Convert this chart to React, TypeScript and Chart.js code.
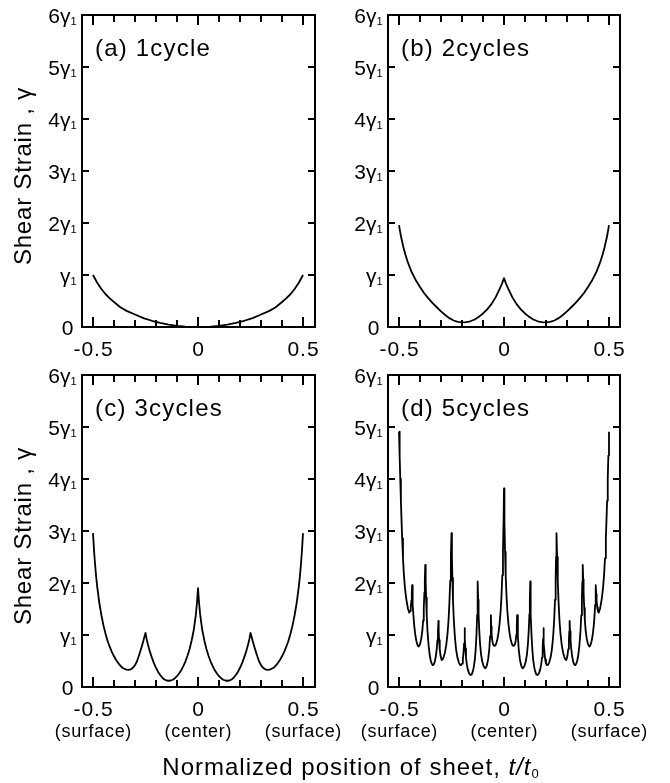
import React, { useEffect, useRef } from 'react';
import { Chart, registerables } from 'chart.js';

Chart.register(...registerables);

const W = 670;
const H = 783;
const FONT = '"Liberation Sans", Arial, Helvetica, sans-serif';

// ---- axis ticks / labels ----
const xMinorTicks = [-0.5, -0.4, -0.3, -0.2, -0.1, 0, 0.1, 0.2, 0.3, 0.4, 0.5];
const xMajorTicks = [-0.5, 0, 0.5];
const xTickLabels = ['-0.5', '0', '0.5'];
const xPositionLabels = ['(surface)', '(center)', '(surface)'];
const yTickValues = [0, 1, 2, 3, 4, 5, 6];
const yTickMain = ['0', 'γ', '2γ', '3γ', '4γ', '5γ', '6γ'];
const yTickSub = ['', '1', '1', '1', '1', '1', '1'];
const panelLabels = ['(a) 1cycle', '(b) 2cycles', '(c) 3cycles', '(d) 5cycles'];
const yAxisTitle = 'Shear Strain , γ';
const xAxisTitleText = 'Normalized position of sheet, ';

// ---- series: [t/t0, shear strain in units of γ1] ----
const cycle1Curve = [
  [-0.5, 1.0], [-0.48, 0.85], [-0.46, 0.73], [-0.44, 0.63], [-0.42, 0.55], [-0.4, 0.48], [-0.37, 0.38],
  [-0.34, 0.31], [-0.3, 0.24], [-0.26, 0.17], [-0.22, 0.12], [-0.18, 0.08], [-0.14, 0.045], [-0.1, 0.02],
  [-0.06, 0.007], [-0.02, 0], [0.02, 0], [0.06, 0.007], [0.1, 0.02], [0.14, 0.045], [0.18, 0.08],
  [0.22, 0.12], [0.26, 0.17], [0.3, 0.24], [0.34, 0.31], [0.37, 0.38], [0.4, 0.48], [0.42, 0.55],
  [0.44, 0.63], [0.46, 0.73], [0.48, 0.85], [0.5, 1.0],
];

const cycle2Curve = [
  [-0.5, 1.96], [-0.495, 1.84], [-0.49, 1.73], [-0.48, 1.55], [-0.47, 1.4], [-0.46, 1.27], [-0.45, 1.16],
  [-0.44, 1.06], [-0.42, 0.9], [-0.4, 0.77], [-0.38, 0.65], [-0.36, 0.55], [-0.34, 0.46], [-0.32, 0.38],
  [-0.3, 0.3], [-0.28, 0.23], [-0.26, 0.17], [-0.24, 0.125], [-0.22, 0.1], [-0.2, 0.09], [-0.18, 0.095],
  [-0.16, 0.11], [-0.14, 0.145], [-0.12, 0.195], [-0.1, 0.26], [-0.08, 0.34], [-0.06, 0.44], [-0.04, 0.57],
  [-0.02, 0.74], [-0.01, 0.83], [0, 0.94], [0.01, 0.83], [0.02, 0.74], [0.04, 0.57], [0.06, 0.44],
  [0.08, 0.34], [0.1, 0.26], [0.12, 0.195], [0.14, 0.145], [0.16, 0.11], [0.18, 0.095], [0.2, 0.09],
  [0.22, 0.1], [0.24, 0.125], [0.26, 0.17], [0.28, 0.23], [0.3, 0.3], [0.32, 0.38], [0.34, 0.46],
  [0.36, 0.55], [0.38, 0.65], [0.4, 0.77], [0.42, 0.9], [0.44, 1.06], [0.45, 1.16], [0.46, 1.27],
  [0.47, 1.4], [0.48, 1.55], [0.49, 1.73], [0.495, 1.84], [0.5, 1.96],
];

const cycle3Curve = [
  [-0.5, 2.96], [-0.495, 2.62], [-0.49, 2.35], [-0.485, 2.12], [-0.48, 1.93], [-0.47, 1.62], [-0.46, 1.38],
  [-0.45, 1.18], [-0.44, 1.02], [-0.43, 0.88], [-0.42, 0.77], [-0.41, 0.67], [-0.4, 0.59], [-0.39, 0.52],
  [-0.38, 0.46], [-0.37, 0.41], [-0.36, 0.37], [-0.35, 0.35], [-0.34, 0.335], [-0.332, 0.33], [-0.32, 0.34],
  [-0.31, 0.37], [-0.3, 0.42], [-0.29, 0.5], [-0.28, 0.62], [-0.27, 0.75], [-0.26, 0.89], [-0.255, 0.97],
  [-0.25, 1.04], [-0.245, 0.93], [-0.24, 0.84], [-0.23, 0.69], [-0.22, 0.57], [-0.21, 0.46], [-0.2, 0.37],
  [-0.19, 0.29], [-0.18, 0.23], [-0.17, 0.18], [-0.16, 0.145], [-0.15, 0.125], [-0.14, 0.12], [-0.13, 0.125],
  [-0.12, 0.14], [-0.11, 0.17], [-0.1, 0.21], [-0.09, 0.26], [-0.08, 0.32], [-0.07, 0.4], [-0.06, 0.49],
  [-0.05, 0.6], [-0.04, 0.73], [-0.03, 0.9], [-0.02, 1.1], [-0.01, 1.4], [-0.005, 1.62], [0, 1.9],
  [0.005, 1.62], [0.01, 1.4], [0.02, 1.1], [0.03, 0.9], [0.04, 0.73], [0.05, 0.6], [0.06, 0.49],
  [0.07, 0.4], [0.08, 0.32], [0.09, 0.26], [0.1, 0.21], [0.11, 0.17], [0.12, 0.14], [0.13, 0.125],
  [0.14, 0.12], [0.15, 0.125], [0.16, 0.145], [0.17, 0.18], [0.18, 0.23], [0.19, 0.29], [0.2, 0.37],
  [0.21, 0.46], [0.22, 0.57], [0.23, 0.69], [0.24, 0.84], [0.245, 0.93], [0.25, 1.04], [0.255, 0.97],
  [0.26, 0.89], [0.27, 0.75], [0.28, 0.62], [0.29, 0.5], [0.3, 0.42], [0.31, 0.37], [0.32, 0.34],
  [0.332, 0.33], [0.34, 0.335], [0.35, 0.35], [0.36, 0.37], [0.37, 0.41], [0.38, 0.46], [0.39, 0.52],
  [0.4, 0.59], [0.41, 0.67], [0.42, 0.77], [0.43, 0.88], [0.44, 1.02], [0.45, 1.18], [0.46, 1.38],
  [0.47, 1.62], [0.48, 1.93], [0.485, 2.12], [0.49, 2.35], [0.495, 2.62], [0.5, 2.96],
];

const cycle5Curve = [
  [-0.5, 4.91], [-0.497, 4.45], [-0.494, 4.0], [-0.491, 3.58], [-0.488, 3.2], [-0.485, 2.86], [-0.481, 2.48],
  [-0.477, 2.18], [-0.472, 1.92], [-0.467, 1.74], [-0.462, 1.61], [-0.457, 1.5], [-0.451, 1.43],
  [-0.447, 1.46], [-0.444, 1.53], [-0.441, 1.66], [-0.439, 1.79], [-0.4375, 1.96],
  [-0.436, 1.78], [-0.434, 1.58], [-0.431, 1.36], [-0.427, 1.16], [-0.422, 0.99], [-0.417, 0.88], [-0.412, 0.81], [-0.408, 0.78],
  [-0.404, 0.79], [-0.399, 0.84], [-0.394, 0.93], [-0.389, 1.08], [-0.385, 1.28], [-0.382, 1.52], [-0.379, 1.82], [-0.377, 2.07], [-0.375, 2.35],
  [-0.373, 2.02], [-0.371, 1.72], [-0.368, 1.38], [-0.364, 1.06], [-0.359, 0.8], [-0.354, 0.62], [-0.349, 0.51], [-0.344, 0.45], [-0.34, 0.42],
  [-0.335, 0.43], [-0.33, 0.48], [-0.325, 0.58], [-0.32, 0.74], [-0.317, 0.9], [-0.3145, 1.07], [-0.3125, 1.27],
  [-0.311, 1.07], [-0.309, 0.9], [-0.306, 0.73], [-0.302, 0.6], [-0.297, 0.52],
  [-0.292, 0.53], [-0.287, 0.58], [-0.281, 0.67], [-0.275, 0.81], [-0.269, 1.02], [-0.264, 1.29], [-0.26, 1.62], [-0.256, 2.05], [-0.253, 2.5], [-0.25, 2.96],
  [-0.248, 2.5], [-0.246, 2.1], [-0.243, 1.68], [-0.239, 1.29], [-0.234, 0.97], [-0.228, 0.72], [-0.222, 0.57], [-0.215, 0.47], [-0.21, 0.43], [-0.205, 0.42],
  [-0.2, 0.45], [-0.196, 0.53], [-0.193, 0.65], [-0.19, 0.84], [-0.1875, 1.13],
  [-0.186, 0.92], [-0.184, 0.74], [-0.181, 0.57], [-0.177, 0.43], [-0.172, 0.33], [-0.166, 0.26], [-0.159, 0.23],
  [-0.154, 0.24], [-0.149, 0.29], [-0.144, 0.38], [-0.139, 0.52], [-0.135, 0.72], [-0.131, 1.0], [-0.128, 1.38], [-0.126, 1.72], [-0.125, 2.03],
  [-0.123, 1.68], [-0.121, 1.4], [-0.118, 1.1], [-0.114, 0.83], [-0.109, 0.62], [-0.103, 0.48], [-0.097, 0.4], [-0.09, 0.36],
  [-0.085, 0.38], [-0.08, 0.44], [-0.075, 0.55], [-0.07, 0.73], [-0.066, 0.98], [-0.0625, 1.38],
  [-0.061, 1.17], [-0.059, 1.01], [-0.056, 0.9], [-0.052, 0.82], [-0.046, 0.79],
  [-0.041, 0.8], [-0.036, 0.85], [-0.031, 0.93], [-0.026, 1.05], [-0.021, 1.22], [-0.016, 1.46], [-0.012, 1.75], [-0.008, 2.15], [-0.005, 2.6], [-0.002, 3.2], [0, 3.82],
  [0.002, 3.2], [0.005, 2.6], [0.008, 2.15], [0.012, 1.75], [0.016, 1.46], [0.021, 1.22], [0.026, 1.05], [0.031, 0.93], [0.036, 0.85], [0.041, 0.8], [0.046, 0.79],
  [0.052, 0.82], [0.056, 0.9], [0.059, 1.01], [0.061, 1.17], [0.0625, 1.38],
  [0.066, 0.98], [0.07, 0.73], [0.075, 0.55], [0.08, 0.44], [0.085, 0.38], [0.09, 0.36],
  [0.097, 0.4], [0.103, 0.48], [0.109, 0.62], [0.114, 0.83], [0.118, 1.1], [0.121, 1.4], [0.123, 1.68], [0.125, 2.03],
  [0.126, 1.72], [0.128, 1.38], [0.131, 1.0], [0.135, 0.72], [0.139, 0.52], [0.144, 0.38], [0.149, 0.29], [0.154, 0.24], [0.159, 0.23],
  [0.166, 0.26], [0.172, 0.33], [0.177, 0.43], [0.181, 0.57], [0.184, 0.74], [0.186, 0.92], [0.1875, 1.13],
  [0.19, 0.84], [0.193, 0.65], [0.196, 0.53], [0.2, 0.45], [0.205, 0.42],
  [0.21, 0.43], [0.215, 0.47], [0.222, 0.57], [0.228, 0.72], [0.234, 0.97], [0.239, 1.29], [0.243, 1.68], [0.246, 2.1], [0.248, 2.5], [0.25, 2.96],
  [0.253, 2.5], [0.256, 2.05], [0.26, 1.62], [0.264, 1.29], [0.269, 1.02], [0.275, 0.81], [0.281, 0.67], [0.287, 0.58], [0.292, 0.53], [0.297, 0.52],
  [0.302, 0.6], [0.306, 0.73], [0.309, 0.9], [0.311, 1.07], [0.3125, 1.27],
  [0.3145, 1.07], [0.317, 0.9], [0.32, 0.74], [0.325, 0.58], [0.33, 0.48], [0.335, 0.43], [0.34, 0.42],
  [0.344, 0.45], [0.349, 0.51], [0.354, 0.62], [0.359, 0.8], [0.364, 1.06], [0.368, 1.38], [0.371, 1.72], [0.373, 2.02], [0.375, 2.35],
  [0.377, 2.07], [0.379, 1.82], [0.382, 1.52], [0.385, 1.28], [0.389, 1.08], [0.394, 0.93], [0.399, 0.84], [0.404, 0.79], [0.408, 0.78],
  [0.412, 0.81], [0.417, 0.88], [0.422, 0.99], [0.427, 1.16], [0.431, 1.36], [0.434, 1.58], [0.436, 1.78], [0.4375, 1.96],
  [0.439, 1.79], [0.441, 1.66], [0.444, 1.53], [0.447, 1.46], [0.451, 1.43],
  [0.457, 1.5], [0.462, 1.61], [0.467, 1.74], [0.472, 1.92], [0.477, 2.18], [0.481, 2.48], [0.485, 2.86], [0.488, 3.2], [0.491, 3.58], [0.494, 4.0], [0.497, 4.45], [0.5, 4.91],
];

type Area = { left: number; top: number; right: number; bottom: number };
type PanelSpec = {
  curve: number[][];
  label: string;
  area: Area;
  xMin: number;
  xMax: number;
  yTitle: boolean;
  bottomLabels: boolean;
  xTitle: boolean;
};

const panels: PanelSpec[] = [
  { curve: cycle1Curve, label: panelLabels[0], area: { left: 82, top: 15, right: 315, bottom: 327 }, xMin: -0.5524, xMax: 0.5571, yTitle: true, bottomLabels: false, xTitle: false },
  { curve: cycle2Curve, label: panelLabels[1], area: { left: 388, top: 15, right: 620, bottom: 327 }, xMin: -0.5524, xMax: 0.5524, yTitle: false, bottomLabels: false, xTitle: false },
  { curve: cycle3Curve, label: panelLabels[2], area: { left: 82, top: 375, right: 315, bottom: 687 }, xMin: -0.5524, xMax: 0.5571, yTitle: true, bottomLabels: true, xTitle: true },
  { curve: cycle5Curve, label: panelLabels[3], area: { left: 388, top: 375, right: 620, bottom: 687 }, xMin: -0.5524, xMax: 0.5524, yTitle: false, bottomLabels: true, xTitle: false },
];

function setSpacing(ctx: CanvasRenderingContext2D, px: number) {
  (ctx as any).letterSpacing = px + 'px';
}

function makeFramePlugin(p: PanelSpec) {
  return {
    id: 'panelFrame',
    afterDraw(chart: any) {
      const ctx = chart.ctx as CanvasRenderingContext2D;
      const { left, top, right, bottom } = chart.chartArea;
      const xs = chart.scales.x;
      const ys = chart.scales.y;
      ctx.save();
      ctx.strokeStyle = '#000';
      ctx.fillStyle = '#000';
      ctx.lineWidth = 2;
      ctx.lineCap = 'butt';
      ctx.strokeRect(left, top, right - left, bottom - top);

      ctx.beginPath();
      for (const v of xMinorTicks) {
        const px = Math.round(xs.getPixelForValue(v));
        const len = xMajorTicks.includes(v) ? 10 : 7;
        ctx.moveTo(px, bottom);
        ctx.lineTo(px, bottom - len);
        ctx.moveTo(px, top);
        ctx.lineTo(px, top + len);
      }
      for (const v of yTickValues) {
        const py = Math.round(ys.getPixelForValue(v));
        ctx.moveTo(left, py);
        ctx.lineTo(left + 7, py);
        ctx.moveTo(right, py);
        ctx.lineTo(right - 7, py);
      }
      ctx.stroke();

      // y tick labels with subscripts
      ctx.textAlign = 'left';
      ctx.textBaseline = 'alphabetic';
      setSpacing(ctx, 0);
      yTickValues.forEach((v, i) => {
        const py = ys.getPixelForValue(v);
        const main = yTickMain[i];
        const sub = yTickSub[i];
        ctx.font = `21px ${FONT}`;
        const mw = ctx.measureText(main).width;
        ctx.font = `11px ${FONT}`;
        const sw = sub ? ctx.measureText(sub).width : 0;
        const anchor = sub ? left - 5.5 : left - 8.5;
        const x0 = anchor - mw - sw;
        const base = py + 7.5;
        ctx.font = `21px ${FONT}`;
        ctx.fillText(main, x0, base);
        if (sub) {
          ctx.font = `11px ${FONT}`;
          ctx.fillText(sub, x0 + mw, base + 2);
        }
      });

      // x tick labels
      ctx.textAlign = 'center';
      ctx.font = `21px ${FONT}`;
      setSpacing(ctx, 1);
      xMajorTicks.forEach((v, i) => {
        const px = xs.getPixelForValue(v);
        ctx.fillText(xTickLabels[i], px + 0.5, bottom + 28.5);
      });
      if (p.bottomLabels) {
        ctx.font = `18px ${FONT}`;
        setSpacing(ctx, 0.7);
        xMajorTicks.forEach((v, i) => {
          const px = xs.getPixelForValue(v);
          ctx.fillText(xPositionLabels[i], px + 0.4, bottom + 50);
        });
      }

      // panel label
      ctx.textAlign = 'left';
      ctx.font = `24px ${FONT}`;
      setSpacing(ctx, 1.2);
      ctx.fillText(p.label, left + 13, top + 41);

      // y axis title
      if (p.yTitle) {
        ctx.save();
        ctx.translate(31, (top + bottom) / 2 + 5);
        ctx.rotate(-Math.PI / 2);
        ctx.textAlign = 'center';
        ctx.font = `24px ${FONT}`;
        setSpacing(ctx, 0.8);
        ctx.fillText(yAxisTitle, 0, 0);
        ctx.restore();
      }

      // shared x axis title
      if (p.xTitle) {
        setSpacing(ctx, 1);
        ctx.textAlign = 'left';
        const fN = `24px ${FONT}`;
        const fI = `italic 24px ${FONT}`;
        const fS = `13px ${FONT}`;
        const parts: [string, string, number][] = [
          [xAxisTitleText, fN, 0],
          ['t/t', fI, 0],
          ['0', fS, 3],
        ];
        let total = 0;
        const widths = parts.map(([t, f]) => {
          ctx.font = f;
          const w = ctx.measureText(t).width;
          total += w;
          return w;
        });
        let x = 351 - total / 2;
        parts.forEach(([t, f, dy], i) => {
          ctx.font = f;
          ctx.fillText(t, x, 775 + dy);
          x += widths[i];
        });
      }
      ctx.restore();
    },
  };
}

function Panel({ spec }: { spec: PanelSpec }) {
  const ref = useRef<HTMLCanvasElement | null>(null);
  useEffect(() => {
    if (!ref.current) return;
    const a = spec.area;
    const chart = new Chart(ref.current, {
      type: 'line',
      data: {
        datasets: [
          {
            data: spec.curve.map(([x, y]) => ({ x, y })),
            borderColor: '#000',
            borderWidth: 1.8,
            borderJoinStyle: 'round',
            pointRadius: 0,
            tension: 0,
            fill: false,
          } as any,
        ],
      },
      options: {
        animation: false,
        responsive: false,
        maintainAspectRatio: false,
        devicePixelRatio: 1,
        events: [],
        layout: { padding: { left: a.left, top: a.top, right: W - a.right, bottom: H - a.bottom } },
        plugins: { legend: { display: false }, tooltip: { enabled: false }, title: { display: false } },
        scales: {
          x: { type: 'linear', display: false, min: spec.xMin, max: spec.xMax },
          y: { type: 'linear', display: false, min: 0, max: 6 },
        },
      },
      plugins: [makeFramePlugin(spec) as any],
    });
    return () => chart.destroy();
  }, [spec]);
  return (
    <canvas
      ref={ref}
      width={W}
      height={H}
      style={{ position: 'absolute', left: 0, top: 0, width: W, height: H }}
    />
  );
}

export default function App() {
  return (
    <div style={{ position: 'absolute', left: 0, top: 0, width: W, height: H, background: '#fff', overflow: 'hidden' }}>
      {panels.map((p, i) => (
        <Panel key={i} spec={p} />
      ))}
    </div>
  );
}
